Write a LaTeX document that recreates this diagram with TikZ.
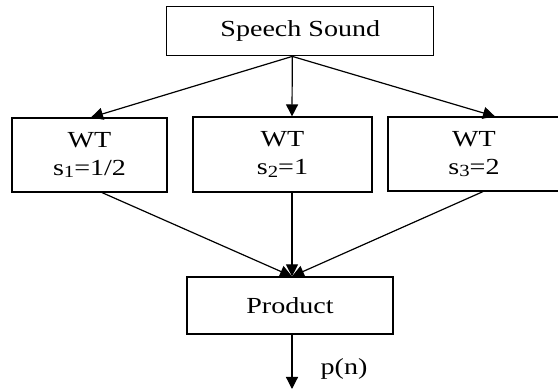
\documentclass[tikz,border=0pt]{standalone}
\usepackage{fontspec}
\setmainfont{Liberation Serif}[FakeStretch=1.22]
\usetikzlibrary{arrows.meta}
\newcommand{\sub}[1]{\raisebox{-0.22ex}{\fontsize{17}{17}\selectfont #1}}
\begin{document}
\begin{tikzpicture}[x=1pt,y=-1pt,
  box/.style={draw,line width=1.2pt,inner sep=0pt,align=center,
    font=\fontsize{23}{28}\selectfont},
  conn/.style={line width=1.2pt,-{Triangle[length=12pt,width=12pt]}}]
\useasboundingbox (0,0) rectangle (558,390);
\fill[white] (0,0) rectangle (558,390);
\node[box,minimum width=267pt,minimum height=49pt] (speech) at (300.3,31.3) {Speech Sound};
\node[box,minimum width=155pt,minimum height=74pt] (wt1) at (89.5,155) {WT\\s\sub{1}=1/2};
\node[box,minimum width=179pt,minimum height=75pt] (wt2) at (282.5,154.5) {WT\\s\sub{2}=1};
\begin{scope}
\clip (0,0) rectangle (558,390);
\node[box,minimum width=180pt,minimum height=74pt] (wt3) at (478,154) {};
\end{scope}
\node[font=\fontsize{23}{28}\selectfont,align=center] (wt3t) at (474,154) {WT\\s\sub{3}=2};
\node[box,minimum width=206pt,minimum height=57pt] (prod) at (290,305.5) {Product};
\coordinate (src) at ([xshift=-8pt]speech.south);
\draw[conn] (src) -- ([xshift=1.5pt]wt1.north);
\draw[conn] (src) -- ([xshift=9.5pt]wt2.north);
\draw[conn] (src) -- ([xshift=17pt]wt3.north);
\draw[conn] ([xshift=12.5pt]wt1.south) -- ([xshift=2pt]prod.north);
\draw[conn] ([xshift=9.5pt]wt2.south) -- ([xshift=2pt]prod.north);
\draw[conn] ([xshift=5pt]wt3.south) -- ([xshift=2pt]prod.north);
\coordinate (out) at (292,389);
\draw[conn] ([xshift=2pt]prod.south) -- (out);
\node[font=\fontsize{23}{28}\selectfont,anchor=center] (pn) at (344,369) {p(n)};
\end{tikzpicture}
\end{document}
